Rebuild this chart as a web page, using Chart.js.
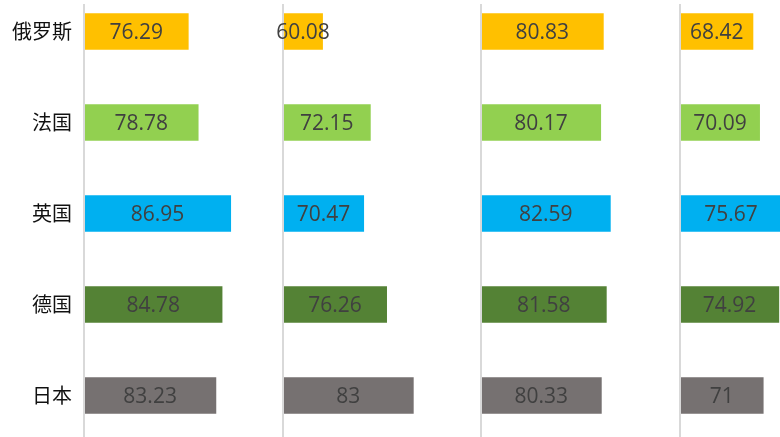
<!DOCTYPE html>
<html>
<head>
<meta charset="utf-8">
<script src="https://cdn.jsdelivr.net/npm/chart.js@4.4.1/dist/chart.umd.min.js"></script>
<style>
  html, body { margin: 0; padding: 0; background: #fff; }
  #wrap { position: relative; width: 780px; height: 437px; overflow: hidden; background: #fff; }
  .panel { position: absolute; top: -14px; height: 455px; }
</style>
</head>
<body>
<div id="wrap"></div>
<script>
// ---- data ----
const categories = ['俄罗斯', '法国', '英国', '德国', '日本'];
const panel1 = [76.29, 78.78, 86.95, 84.78, 83.23];
const panel2 = [60.08, 72.15, 70.47, 76.26, 83];
const panel3 = [80.83, 80.17, 82.59, 81.58, 80.33];
const panel4 = [68.42, 70.09, 75.67, 74.92, 71];
const seriesList = [panel1, panel2, panel3, panel4];
const barColors = ['#FFC000', '#92D050', '#00B0F0', '#548235', '#767171'];
const axisMin = 50, axisMax = 100;

// ---- layout ----
const axisX = [84, 283, 481, 680];
const areaW = [199, 198, 199, 199];
const padL = 12;

const axisLinePlugin = {
  id: 'axisLine',
  afterDatasetsDraw(chart) {
    const ctx = chart.ctx, a = chart.chartArea;
    ctx.save();
    ctx.strokeStyle = '#d9d9d9';
    ctx.lineWidth = 2;
    ctx.beginPath();
    ctx.moveTo(a.left, 18);
    ctx.lineTo(a.left, chart.height);
    ctx.stroke();
    ctx.restore();
  }
};

const valueLabelPlugin = {
  id: 'valueLabels',
  afterDatasetsDraw(chart) {
    const ctx = chart.ctx;
    const a = chart.chartArea;
    const ds = chart.data.datasets[0];
    const meta = chart.getDatasetMeta(0);
    ctx.save();
    ctx.font = '21px "Open Sans", sans-serif';
    ctx.fillStyle = '#404040';
    ctx.textAlign = 'center';
    ctx.textBaseline = 'middle';
    meta.data.forEach((bar, i) => {
      const start = Math.max(bar.base, a.left);
      const x = (bar.x + start) / 2;
      ctx.fillText(String(ds.data[i]), x, bar.y + 2);
    });
    ctx.restore();
  }
};

const wrap = document.getElementById('wrap');
seriesList.forEach((values, k) => {
  const first = k === 0;
  const div = document.createElement('div');
  div.className = 'panel';
  const left = first ? 0 : axisX[k] - padL;
  const width = first ? axisX[0] + areaW[0] : areaW[k] + padL;
  div.style.left = left + 'px';
  div.style.width = width + 'px';
  const canvas = document.createElement('canvas');
  div.appendChild(canvas);
  wrap.appendChild(div);

  new Chart(canvas, {
    type: 'bar',
    data: {
      labels: categories,
      datasets: [{
        data: values,
        backgroundColor: barColors,
        borderWidth: 0,
        categoryPercentage: 1,
        barPercentage: 0.4
      }]
    },
    options: {
      indexAxis: 'y',
      responsive: true,
      maintainAspectRatio: false,
      animation: false,
      layout: { padding: { left: first ? 0 : padL, right: 0, top: 0, bottom: 0 } },
      plugins: { legend: { display: false }, tooltip: { enabled: false } },
      scales: {
        x: { display: false, min: axisMin, max: axisMax },
        y: {
          display: first,
          grid: { display: false, drawTicks: false },
          border: { display: false },
          ticks: {
            padding: 12,
            color: '#111',
            font: { family: '"Noto Sans CJK SC", sans-serif', size: 20 }
          },
          afterFit(scale) {
            if (first) {
              scale.width = axisX[0];
              scale.paddingTop = 0;
              scale.paddingBottom = 0;
            }
          }
        }
      }
    },
    plugins: [axisLinePlugin, valueLabelPlugin]
  });
});
</script>
</body>
</html>
